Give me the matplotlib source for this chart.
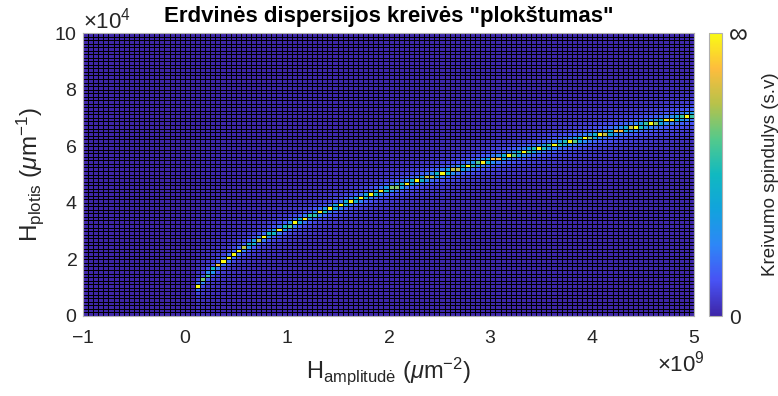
import numpy as np
import matplotlib
matplotlib.use("Agg")
import matplotlib.pyplot as plt
from matplotlib.colors import LinearSegmentedColormap
from matplotlib.ticker import ScalarFormatter

plt.rcParams['font.family'] = ['Liberation Sans', 'DejaVu Sans']
plt.rcParams['mathtext.fontset'] = 'custom'
plt.rcParams['mathtext.rm'] = 'Liberation Sans'
plt.rcParams['mathtext.it'] = 'Liberation Sans:italic'

# map grid (cell edges)
x_edges = np.linspace(-1e9, 5e9, 121)
y_edges = np.linspace(0, 1e5, 81)

# ridge of the map (x in 1e9, y in 1e4)
ridge_x = np.round(np.arange(0.10, 5.001, 0.05), 2)
ridge_y = [1.00, 1.22, 1.41, 1.58, 1.73, 1.87, 2.00, 2.12, 2.24, 2.35,
           2.45, 2.55, 2.65, 2.74, 2.83, 2.92, 3.00, 3.08, 3.16, 3.24,
           3.32, 3.39, 3.46, 3.54, 3.61, 3.67, 3.74, 3.81, 3.87, 3.94,
           4.00, 4.06, 4.12, 4.18, 4.24, 4.30, 4.36, 4.42, 4.47, 4.53,
           4.58, 4.64, 4.69, 4.74, 4.80, 4.85, 4.90, 4.95, 5.00, 5.05,
           5.10, 5.15, 5.20, 5.24, 5.29, 5.34, 5.39, 5.43, 5.48, 5.52,
           5.57, 5.61, 5.66, 5.70, 5.74, 5.79, 5.83, 5.87, 5.92, 5.96,
           6.00, 6.04, 6.08, 6.12, 6.16, 6.20, 6.24, 6.28, 6.32, 6.36,
           6.40, 6.44, 6.48, 6.52, 6.56, 6.60, 6.63, 6.67, 6.71, 6.75,
           6.78, 6.82, 6.86, 6.89, 6.93, 6.96, 7.00, 7.04, 7.07]

# parula-like colormap
parula = LinearSegmentedColormap.from_list('parula', [
    (0.000, (0.2422, 0.1504, 0.6603)),
    (0.125, (0.2810, 0.3228, 0.9579)),
    (0.250, (0.1786, 0.5289, 0.9682)),
    (0.375, (0.0689, 0.6380, 0.8667)),
    (0.500, (0.0641, 0.7250, 0.7552)),
    (0.625, (0.3280, 0.7901, 0.5479)),
    (0.750, (0.7186, 0.7609, 0.2920)),
    (0.875, (0.9932, 0.7407, 0.2394)),
    (1.000, (0.9769, 0.9839, 0.0805)),
])

row_h = y_edges[1] - y_edges[0]
C = np.zeros((len(y_edges) - 1, len(x_edges) - 1))
for xr, yr in zip(ridge_x, ridge_y):
    j = int(round((xr * 1e9 - x_edges[0]) / (x_edges[1] - x_edges[0])))
    if j >= C.shape[1]:
        continue
    d = np.abs(y_edges[:-1] - yr * 1e4) / row_h
    core = 1.1 / np.sqrt(1 + (d / 0.15) ** 2)
    halo = 0.12 * np.exp(-d / (0.5 + 0.4 * xr))
    C[:, j] = np.minimum(1.0, core + halo)

fig = plt.figure(figsize=(7.78, 3.96), dpi=100)
ax = fig.add_axes([83 / 778, 1 - 316 / 396, 611 / 778, 283 / 396])
mesh = ax.pcolormesh(x_edges, y_edges, C, cmap=parula, vmin=0, vmax=1,
                     edgecolors='k', linewidth=0.5)

ax.set_xlim(-1e9, 5e9)
ax.set_ylim(0, 1e5)
ax.set_xticks(np.arange(-1e9, 5.1e9, 1e9))
ax.set_yticks(np.arange(0, 1.01e5, 2e4))
for axis, p in ((ax.xaxis, 9), (ax.yaxis, 4)):
    fmt = ScalarFormatter(useMathText=True)
    fmt.set_powerlimits((p, p))
    axis.set_major_formatter(fmt)
    axis.get_offset_text().set_fontsize(16)
    axis.get_offset_text().set_color('#262626')
ax.xaxis.get_offset_text().set_x(1.018)
ax.tick_params(length=0, labelsize=14, colors='#262626')
ax.tick_params(axis='x', pad=10)
ax.tick_params(axis='y', pad=4)
for s in ax.spines.values():
    s.set_color('#b0b0b0')
    s.set_linewidth(0.8)

ax.set_xlabel(r'H$_{\mathrm{amplitudė}}$ ($\mathit{\mu}$m$^{-2}$)', fontsize=17,
              color='#262626', labelpad=6)
ax.set_ylabel(r'H$_{\mathrm{plotis}}$ ($\mathit{\mu}$m$^{-1}$)', fontsize=17.5,
              color='#262626', labelpad=6)
ax.set_title('Erdvinės dispersijos kreivės "plokštumas"', fontsize=16,
             fontweight='bold', pad=8)

cax = fig.add_axes([709 / 778, 1 - 316 / 396, 13 / 778, 283 / 396])
cb = fig.colorbar(mesh, cax=cax, ticks=[0, 1])
cb.set_ticklabels(['0', '∞'])
cax.tick_params(length=0, labelsize=15, colors='#262626', pad=5)
cax.get_yticklabels()[1].set_fontsize(19)
cb.outline.set_edgecolor('#b0b0b0')
cb.set_label('Kreivumo spindulys (s.v)', fontsize=13.5, color='#262626', labelpad=10)

fig.savefig('out.png', dpi=100)
